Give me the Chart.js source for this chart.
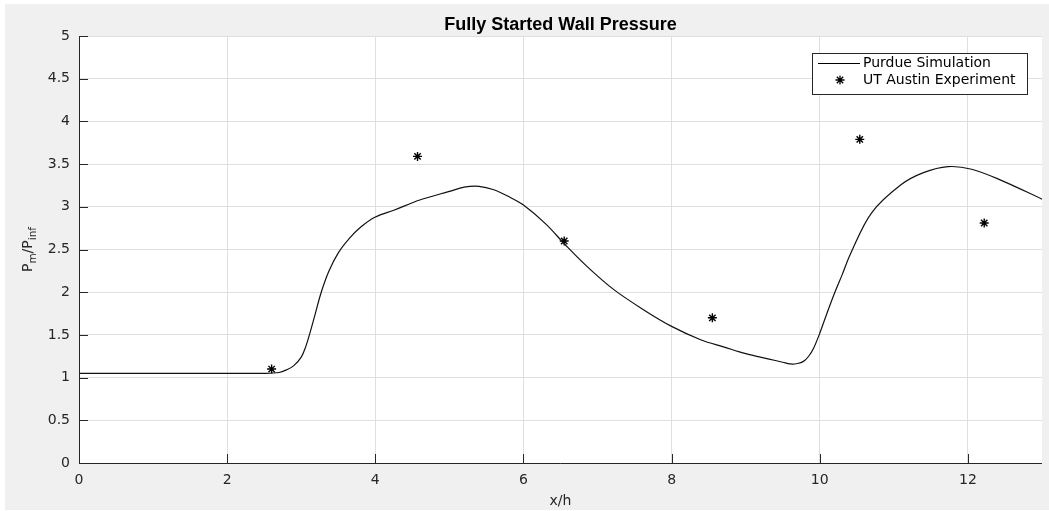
<!DOCTYPE html>
<html>
<head>
<meta charset="utf-8">
<script src="https://cdn.jsdelivr.net/npm/chart.js@4/dist/chart.umd.min.js"></script>
<style>
  html, body { margin: 0; padding: 0; background: #ffffff; }
  #wrap { position: absolute; left: 0; top: 0; width: 1049px; height: 511px; }
</style>
</head>
<body>
<div id="wrap"><canvas id="c" width="1049" height="511"></canvas></div>
<script>
// ---- data ----
const simX = [0, 2, 2.5, 2.7, 2.8, 2.9, 3.0, 3.06, 3.12, 3.19, 3.27, 3.37, 3.5, 3.65, 3.8, 4.0, 4.25, 4.6, 5.0, 5.2, 5.4, 5.6, 5.8, 6.0, 6.3, 6.57, 6.86, 7.22, 7.63, 8.0, 8.4, 8.7, 9.0, 9.3, 9.5, 9.6, 9.7, 9.78, 9.85, 9.92, 10.0, 10.1, 10.2, 10.3, 10.42, 10.7, 11.1, 11.4, 11.73, 12.05, 12.45, 13.0];
const simY = [1.05, 1.05, 1.05, 1.06, 1.09, 1.14, 1.24, 1.36, 1.53, 1.75, 2.00, 2.24, 2.46, 2.63, 2.76, 2.88, 2.96, 3.08, 3.18, 3.23, 3.24, 3.20, 3.12, 3.02, 2.80, 2.55, 2.30, 2.03, 1.79, 1.60, 1.44, 1.36, 1.28, 1.22, 1.18, 1.16, 1.165, 1.19, 1.25, 1.35, 1.52, 1.76, 1.99, 2.20, 2.46, 2.93, 3.26, 3.40, 3.47, 3.44, 3.31, 3.09];
const expX = [2.6, 4.57, 6.55, 8.55, 10.54, 12.22];
const expY = [1.10, 3.59, 2.60, 1.70, 3.79, 2.81];
const xTicks = [0, 2, 4, 6, 8, 10, 12];
const yTicks = [0, 0.5, 1, 1.5, 2, 2.5, 3, 3.5, 4, 4.5, 5];
const seriesNames = ["Purdue Simulation", "UT Austin Experiment"];
const titleText = "Fully Started Wall Pressure";
const xTitle = "x/h";

const AX = '#262626';
const GRID = '#dfdfdf';
const FONT = '"DejaVu Sans", sans-serif';

const bgPlugin = {
  id: 'bg',
  beforeDraw(chart) {
    const ctx = chart.ctx, a = chart.chartArea;
    ctx.save();
    ctx.fillStyle = '#f0f0f0';
    ctx.fillRect(5, 4, chart.width - 5, chart.height - 5);
    ctx.fillStyle = '#ffffff';
    ctx.fillRect(a.left, a.top, a.right - a.left, a.bottom - a.top);
    ctx.restore();
  }
};

const decoPlugin = {
  id: 'deco',
  afterDatasetsDraw(chart) {
    const ctx = chart.ctx, a = chart.chartArea;
    const xs = chart.scales.x, ys = chart.scales.y;
    ctx.save();
    // axis lines
    ctx.strokeStyle = AX; ctx.lineWidth = 1;
    ctx.beginPath();
    ctx.moveTo(a.left + 0.5, a.top); ctx.lineTo(a.left + 0.5, a.bottom + 0.5);
    ctx.lineTo(a.right, a.bottom + 0.5);
    ctx.stroke();
    // inward ticks
    ctx.beginPath();
    xTicks.forEach(v => {
      const px = Math.round(xs.getPixelForValue(v)) + 0.5;
      ctx.moveTo(px, a.bottom); ctx.lineTo(px, a.bottom - 9);
    });
    yTicks.forEach(v => {
      const py = Math.round(ys.getPixelForValue(v)) + 0.5;
      ctx.moveTo(a.left, py); ctx.lineTo(a.left + 9, py);
    });
    ctx.stroke();

    // title
    ctx.fillStyle = '#000000';
    ctx.font = 'bold 18px "Liberation Sans", sans-serif';
    ctx.textAlign = 'center'; ctx.textBaseline = 'alphabetic';
    ctx.fillText(titleText, (a.left + a.right) / 2, 30);

    // x title
    ctx.fillStyle = AX;
    ctx.font = '14px ' + FONT;
    ctx.textBaseline = 'middle';
    ctx.fillText(xTitle, (a.left + a.right) / 2, 501);

    // y title with subscripts (rotated)
    ctx.save();
    ctx.translate(28, (a.top + a.bottom) / 2);
    ctx.rotate(-Math.PI / 2);
    const parts = [['P', 14, 0], ['m', 10.5, 4], ['/P', 14, 0], ['inf', 10.5, 4]];
    let total = 0;
    parts.forEach(p => { ctx.font = p[1] + 'px ' + FONT; total += ctx.measureText(p[0]).width; });
    let cx = -total / 2;
    ctx.textAlign = 'left'; ctx.textBaseline = 'alphabetic';
    parts.forEach(p => {
      ctx.font = p[1] + 'px ' + FONT;
      ctx.fillText(p[0], cx, 4 + p[2]);
      cx += ctx.measureText(p[0]).width;
    });
    ctx.restore();

    // legend
    const lx = 812, ly = 53, lw = 215, lh = 41;
    ctx.fillStyle = '#ffffff';
    ctx.fillRect(lx, ly, lw, lh);
    ctx.strokeStyle = AX; ctx.lineWidth = 1;
    ctx.strokeRect(lx + 0.5, ly + 0.5, lw, lh);
    ctx.strokeStyle = '#000000';
    ctx.beginPath(); ctx.moveTo(818, 63.5); ctx.lineTo(860, 63.5); ctx.stroke();
    // star marker sample
    const sx = 840, sy = 80, r = 4.5;
    ctx.lineWidth = 1.3;
    ctx.beginPath();
    ctx.moveTo(sx - r, sy); ctx.lineTo(sx + r, sy);
    ctx.moveTo(sx, sy - r); ctx.lineTo(sx, sy + r);
    const d = r * 0.7071;
    ctx.moveTo(sx - d, sy - d); ctx.lineTo(sx + d, sy + d);
    ctx.moveTo(sx - d, sy + d); ctx.lineTo(sx + d, sy - d);
    ctx.stroke();
    ctx.fillStyle = '#000000';
    ctx.font = '14px ' + FONT;
    ctx.textAlign = 'left'; ctx.textBaseline = 'middle';
    ctx.fillText(seriesNames[0], 863, 63);
    ctx.fillText(seriesNames[1], 863, 80);
    ctx.restore();
  }
};

new Chart(document.getElementById('c'), {
  type: 'line',
  data: {
    datasets: [
      {
        label: seriesNames[0],
        data: simX.map((x, i) => ({ x, y: simY[i] })),
        borderColor: '#111111',
        borderWidth: 1.2,
        pointRadius: 0,
        tension: 0.35,
        fill: false
      },
      {
        label: seriesNames[1],
        data: expX.map((x, i) => ({ x, y: expY[i] })),
        showLine: false,
        pointStyle: 'star',
        pointRadius: 4.5,
        pointBorderColor: '#000000',
        pointBackgroundColor: '#000000',
        pointBorderWidth: 1.4
      }
    ]
  },
  options: {
    responsive: false,
    animation: false,
    devicePixelRatio: 1,
    layout: { padding: { top: 36, right: 7, left: 0, bottom: 0 } },
    plugins: { legend: { display: false }, title: { display: false }, tooltip: { enabled: false } },
    scales: {
      x: {
        type: 'linear', min: 0, max: 13,
        afterBuildTicks(s) { s.ticks = xTicks.map(v => ({ value: v })); },
        afterFit(s) { s.height = 48; },
        grid: { color: GRID, drawTicks: false, lineWidth: 1 },
        border: { display: false },
        ticks: { color: AX, font: { family: FONT, size: 14 }, padding: 9, maxRotation: 0, callback: v => String(v) }
      },
      y: {
        type: 'linear', min: 0, max: 5,
        afterBuildTicks(s) { s.ticks = yTicks.map(v => ({ value: v })); },
        afterFit(s) { s.width = 79; },
        grid: { color: GRID, drawTicks: false, lineWidth: 1 },
        border: { display: false },
        ticks: { color: AX, font: { family: FONT, size: 14 }, padding: 9, callback: v => String(v) }
      }
    }
  },
  plugins: [bgPlugin, decoPlugin]
});
</script>
</body>
</html>
